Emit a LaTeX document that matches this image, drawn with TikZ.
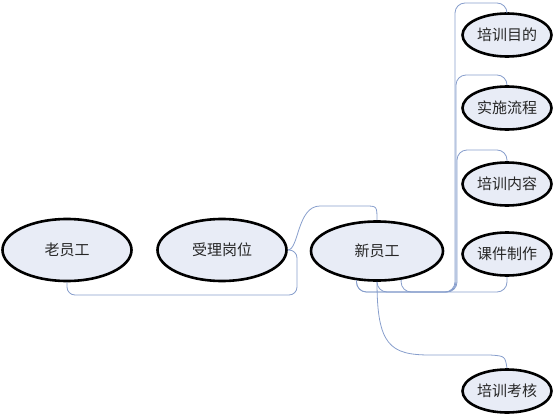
\documentclass[tikz,border=0pt]{standalone}
\usepackage{fontspec}
\setmainfont{Noto Sans CJK SC}
\usetikzlibrary{shapes.geometric}
\definecolor{efill}{RGB}{232,236,246}
\definecolor{conncol}{RGB}{135,158,204}
\begin{document}
\begin{tikzpicture}[x=1pt,y=-1pt,
  bignode/.style={ellipse,draw=black,line width=2.6pt,fill=efill,minimum width=129pt,minimum height=62pt,inner sep=0pt,font=\fontsize{15}{17}\selectfont,text=black!85},
  smallnode/.style={bignode,minimum width=89pt,minimum height=43pt},
  conn/.style={draw=conncol,line width=0.8pt},
  rconn/.style={conn,rounded corners=10pt}]
\useasboundingbox (0,0) rectangle (554,415);
% nodes
\node[bignode] (old) at (67,250) {老员工};
\node[bignode] (acc) at (222,250) {受理岗位};
\node[bignode,minimum width=132pt,minimum height=59pt] (new) at (377,251) {新员工};
\node[smallnode] (m) at (507,35) {培训目的};
\node[smallnode] (s) at (507,108) {实施流程};
\node[smallnode] (c) at (507,184) {培训内容};
\node[smallnode] (k) at (507,254) {课件制作};
\node[smallnode] (h) at (507,391) {培训考核};
% connectors
\draw[conn,rounded corners=8pt] (old.south) |- (297,295) |- (acc.east);
\draw[conn] (acc.east) .. controls (299,250) and (297,206) .. (320,206) -- (365,206) .. controls (377,206) .. (new.north);
\draw[rconn] (new.235) |- (455,292) |- (507,3) -- (m.north);
\draw[rconn] (new.south) |- (456,292) |- (507,75) -- (s.north);
\draw[rconn] (new.-50) |- (457,292) |- (507,150) -- (c.north);
\draw[rconn] (new.235) |- (507,292) -- (k.south);
\draw[conn] (new.south) .. controls (377,345) and (390,355) .. (430,355) -- (490,355) .. controls (505,356) .. (h.north);
\end{tikzpicture}
\end{document}
